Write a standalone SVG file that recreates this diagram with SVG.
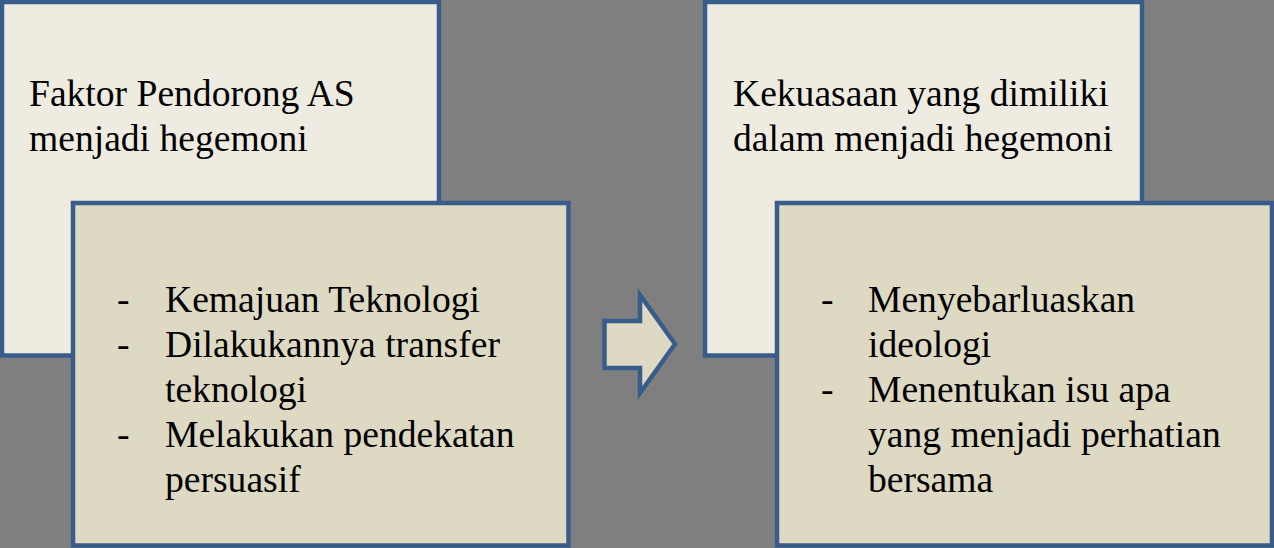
<svg xmlns="http://www.w3.org/2000/svg" width="1274" height="548" viewBox="0 0 1274 548">
<style>
.bg{fill:#7f7f7f}
.light{fill:#eeece1;stroke:#385d8a;stroke-width:4.5}
.dark{fill:#ddd9c3;stroke:#385d8a;stroke-width:4.5}
text{font-family:"Liberation Serif","Times New Roman",serif;font-size:37.6px;fill:#000}
</style>
<rect class="bg" x="0" y="0" width="1274" height="548"/>
<g id="box-faktor">
<rect class="light" x="2" y="2" width="437" height="353.5"/>
<text x="29" y="106">Faktor Pendorong AS</text>
<text x="29" y="151">menjadi hegemoni</text>
</g>
<g id="box-faktor-list">
<rect class="dark" x="73" y="203" width="495.5" height="342.5"/>
<text x="117" y="312">-</text><text x="165" y="312">Kemajuan Teknologi</text>
<text x="117" y="357">-</text><text x="165" y="357">Dilakukannya transfer</text>
<text x="165" y="402">teknologi</text>
<text x="117" y="447">-</text><text x="165" y="447">Melakukan pendekatan</text>
<text x="165" y="492">persuasif</text>
</g>
<g id="connectors">
<polygon class="dark" points="604.5,321 640,321 640,295 675,344 640,393 640,368 604.5,368"/>
</g>
<g id="box-kekuasaan">
<rect class="light" x="705" y="2" width="437" height="353.5"/>
<text x="733" y="106">Kekuasaan yang dimiliki</text>
<text x="733" y="151">dalam menjadi hegemoni</text>
</g>
<g id="box-kekuasaan-list">
<rect class="dark" x="777" y="203" width="495" height="342.5"/>
<text x="821" y="312">-</text><text x="868" y="312">Menyebarluaskan</text>
<text x="868" y="357">ideologi</text>
<text x="821" y="402">-</text><text x="868" y="402">Menentukan isu apa</text>
<text x="868" y="447">yang menjadi perhatian</text>
<text x="868" y="492">bersama</text>
</g>
</svg>
